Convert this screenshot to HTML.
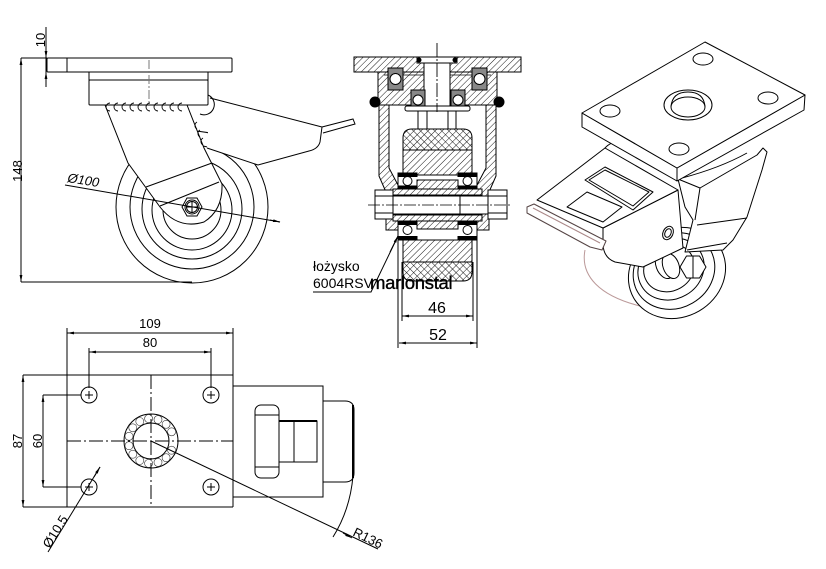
<!DOCTYPE html>
<html><head><meta charset="utf-8"><style>
html,body{margin:0;padding:0;background:#fff;}
svg{display:block;}
text{font-family:"Liberation Sans",Arial,sans-serif;fill:#000;}
</style></head><body>
<svg width="826" height="569" viewBox="0 0 826 569" xmlns="http://www.w3.org/2000/svg">
<defs>
<marker id="a" viewBox="0 0 10 10" refX="10" refY="5" markerWidth="7" markerHeight="7" orient="auto-start-reverse"><path d="M0,3 L10,5 L0,7 z" fill="#000"/></marker>
<pattern id="h" width="4.5" height="4.5" patternUnits="userSpaceOnUse" patternTransform="rotate(45)"><rect width="4.5" height="4.5" fill="#fff"/><line x1="0" y1="0" x2="0" y2="4.5" stroke="#000" stroke-width="0.9"/></pattern>
<pattern id="x" width="5" height="5" patternUnits="userSpaceOnUse" patternTransform="rotate(45)"><rect width="5" height="5" fill="#fff"/><line x1="0" y1="0" x2="0" y2="5" stroke="#000" stroke-width="0.9"/><line x1="0" y1="0" x2="5" y2="0" stroke="#000" stroke-width="0.9"/></pattern>
</defs>
<rect width="826" height="569" fill="#fff"/>

<!-- ================= SIDE VIEW ================= -->
<g fill="none" stroke="#000" stroke-width="1">
  <line x1="46" y1="27" x2="46" y2="87"/>
  <path d="M46,45 L46,58" marker-end="url(#a)"/>
  <path d="M46,86 L46,72" marker-end="url(#a)"/>
  <line x1="21" y1="58" x2="47" y2="58"/>
  <line x1="21" y1="282" x2="192" y2="282"/>
  <path d="M21,58 L21,282" marker-start="url(#a)" marker-end="url(#a)"/>
  <circle cx="192" cy="207" r="76"/>
  <circle cx="192" cy="207" r="62"/>
  <circle cx="192" cy="209" r="50"/>
  <circle cx="192" cy="210" r="40"/>
  <circle cx="192" cy="210" r="29"/>
  <path d="M210,98 L322,127 L320,142 Q318,149 309,151 L258,165 L207,148" fill="#fff"/>
  <path d="M322,127 L353,119 L355,124 L323,133"/>
  <path d="M105,105 L128,163 L160,207 Q178,230 204,222 Q223,210 222,184 L204,148 L187,105 Z" fill="#fff"/>
  <line x1="146" y1="187" x2="212" y2="163"/>
  <line x1="160" y1="206" x2="219" y2="182"/>
  <polygon points="202,207 197,216 187,216 182,207 187,198 197,198" fill="#fff"/>
  <circle cx="192" cy="207" r="7"/>
  <circle cx="192" cy="207" r="5.5"/>
  <line x1="186" y1="207" x2="198" y2="207"/><line x1="192" y1="201" x2="192" y2="213"/>
  <path d="M208,95 A9,9 0 0 1 200,114"/>
  <rect x="89" y="80" width="119" height="25" rx="1" fill="#fff"/>
  <rect x="89" y="72" width="119" height="8" fill="#fff"/>
  <rect x="47" y="58" width="185" height="14" rx="1" fill="#fff"/>
  <line x1="67" y1="58" x2="67" y2="72"/>
  <line x1="149" y1="60" x2="149" y2="104" stroke="#777" stroke-dasharray="9,2,2,2"/>
  <path d="M110,103 a4,4 0 0 0 0,8 M118,103 a4,4 0 0 0 0,8 M126,103 a4,4 0 0 0 0,8 M134,103 a4,4 0 0 0 0,8 M142,103 a4,4 0 0 0 0,8 M150,103 a4,4 0 0 0 0,8 M158,103 a4,4 0 0 0 0,8 M166,103 a4,4 0 0 0 0,8 M174,103 a4,4 0 0 0 0,8 M182,103 a4,4 0 0 0 0,8" stroke-width="0.9"/>
  <path d="M197,122 a4,4 0 0 0 0,7 M200,130 a4,4 0 0 0 0,7 M203,138 a4,4 0 0 0 0,7" stroke-width="0.9"/>
  <line x1="65" y1="185" x2="280" y2="222"/>
  <path d="M270,220 L280,222" marker-end="url(#a)"/>
</g>
<text x="0" y="0" font-size="13" transform="translate(45,40) rotate(-90)" text-anchor="middle">10</text>
<text x="0" y="0" font-size="13" transform="translate(22,171) rotate(-90)" text-anchor="middle">148</text>
<text x="0" y="0" font-size="13" font-style="italic" transform="translate(67,182) rotate(9)">Ø100</text>

<!-- ================= SECTION VIEW ================= -->
<g stroke="#000" stroke-width="1">
  <rect x="354" y="57" width="167" height="15" fill="url(#h)"/>
  <rect x="417" y="57" width="40" height="6" fill="#fff"/>
  <circle cx="419" cy="60" r="2.5" fill="#000" stroke="none"/>
  <circle cx="455" cy="60" r="2.5" fill="#000" stroke="none"/>
  <rect x="378" y="72" width="119" height="33" fill="url(#h)"/>
  <line x1="384" y1="75" x2="491" y2="75" stroke-width="0.8"/>
  <rect x="424" y="63" width="26" height="45" fill="#fff"/>
  <rect x="388" y="68" width="15" height="22" fill="#888"/>
  <circle cx="395.5" cy="79" r="5.5" fill="#fff"/>
  <rect x="472" y="68" width="15" height="22" fill="#888"/>
  <circle cx="479.5" cy="79" r="5.5" fill="#fff"/>
  <rect x="411" y="90" width="14" height="20" fill="#888"/>
  <circle cx="418" cy="100" r="5" fill="#fff"/>
  <rect x="451" y="90" width="14" height="20" fill="#888"/>
  <circle cx="458" cy="100" r="5" fill="#fff"/>
  <circle cx="375" cy="102" r="5" fill="#000"/>
  <circle cx="499" cy="102" r="5" fill="#000"/>
  <rect x="405" y="106" width="65" height="5" rx="2" fill="#fff"/>
  <path d="M418,111 V129 M427,111 V129 M448,111 V129 M456,111 V129" fill="none"/>
  <path d="M379,105 L389,105 L389,168 L398,185 L398,230 L386,230 L386,192 L379,176 Z" fill="url(#h)"/>
  <path d="M496,105 L486,105 L486,168 L477,185 L477,230 L489,230 L489,192 L496,176 Z" fill="url(#h)"/>
  <path d="M403,150 V138 Q403,129 412,129 H463 Q472,129 472,138 V150 Z" fill="url(#x)"/>
  <rect x="403" y="150" width="69" height="25" fill="url(#h)"/>
  <rect x="398" y="175" width="79" height="14" fill="#fff"/>
  <rect x="398" y="173" width="19" height="3.5" fill="#000"/>
  <rect x="458" y="173" width="19" height="3.5" fill="#000"/>
  <rect x="398" y="186" width="19" height="3.5" fill="#000"/>
  <rect x="458" y="186" width="19" height="3.5" fill="#000"/>
  <circle cx="407.5" cy="181" r="4.5" fill="#fff"/>
  <circle cx="467.5" cy="181" r="4.5" fill="#fff"/>
  <rect x="417" y="180" width="41" height="9" fill="url(#h)"/>
  <rect x="393" y="189" width="89" height="6" fill="url(#h)"/>
  <rect x="380" y="196" width="108" height="18" fill="#fff"/>
  <rect x="460" y="196" width="28" height="18" fill="#fff"/>
  <rect x="375" y="190" width="18" height="29" fill="#fff"/>
  <line x1="375" y1="196" x2="393" y2="196"/><line x1="375" y1="213" x2="393" y2="213"/>
  <rect x="488" y="190" width="19" height="29" fill="#fff"/>
  <line x1="488" y1="196" x2="507" y2="196"/><line x1="488" y1="213" x2="507" y2="213"/>
  <line x1="368" y1="205" x2="512" y2="205" stroke-width="0.8" stroke-dasharray="12,2,2,2"/>
  <rect x="393" y="215" width="89" height="6" fill="url(#h)"/>
  <rect x="398" y="221" width="79" height="19" fill="#fff"/>
  <rect x="417" y="221" width="41" height="8" fill="url(#h)"/>
  <rect x="398" y="221" width="19" height="3.5" fill="#000"/>
  <rect x="458" y="221" width="19" height="3.5" fill="#000"/>
  <rect x="398" y="236.5" width="19" height="3.5" fill="#000"/>
  <rect x="458" y="236.5" width="19" height="3.5" fill="#000"/>
  <circle cx="407.5" cy="230" r="4.5" fill="#fff"/>
  <circle cx="467.5" cy="230" r="4.5" fill="#fff"/>
  <rect x="403" y="240" width="69" height="22" fill="url(#h)"/>
  <path d="M403,262 H472 V272 Q472,281 463,281 H412 Q403,281 403,272 Z" fill="url(#x)"/>
  <line x1="437" y1="43" x2="437" y2="112" stroke-width="0.9" stroke-dasharray="14,2,2,2"/>
</g>
<g fill="none" stroke="#000" stroke-width="1">
  <path d="M398,240 V348 M402,262 V321 M473,262 V321 M477,240 V348"/>
  <path d="M402,316 L473,316" marker-start="url(#a)" marker-end="url(#a)"/>
  <path d="M399,343 L477,343" marker-start="url(#a)" marker-end="url(#a)"/>
  <path d="M313,292 L371,292 L398,236" />
  <path d="M390,252 L398,236" marker-end="url(#a)"/>
</g>
<text x="437" y="313" font-size="16" text-anchor="middle">46</text>
<text x="438" y="340" font-size="16" text-anchor="middle">52</text>
<text x="313" y="271" font-size="14" fill="#222">łożysko</text>
<text x="313" y="288" font-size="14" fill="#222">6004RSV</text>
<text x="370" y="289" font-size="18.5" letter-spacing="-0.3" stroke="#000" stroke-width="0.35">marlonstal</text>

<!-- ================= ISOMETRIC ================= -->
<g fill="#fff" stroke="#000" stroke-width="1" stroke-linejoin="round">
  <!-- wheel -->
  <path d="M585,250 C580,276 600,296 640,306" fill="none" stroke="#b99"/>
  <ellipse cx="677" cy="273" rx="50" ry="44" transform="rotate(-30 677 273)"/>
  <ellipse cx="674" cy="271" rx="42" ry="37" transform="rotate(-30 674 271)"/>
  <ellipse cx="671" cy="269" rx="34" ry="30" transform="rotate(-30 671 269)"/>
  <ellipse cx="669" cy="268" rx="26" ry="23" transform="rotate(-30 669 268)"/>
  <ellipse cx="665" cy="265" rx="9" ry="14" transform="rotate(-20 665 265)"/>
  <ellipse cx="671" cy="266" rx="8" ry="13" transform="rotate(-20 671 266)"/>
  <!-- right fork -->
  <path d="M678,179 L700,188 L757,155 L763,148 L767,152 L762,170 L747,217 L733,240 L723,250 L685,252 L693,220 L685,207 Z"/>
  <path d="M700,188 L695,220 M697,225 L747,218 M687,250 L727,243 M682,178 Q720,168 747,153" fill="none"/>
  <!-- nut -->
  <polygon points="706,267 699.5,278 686.5,278 680,267 686.5,256 699.5,256"/>
  <line x1="693" y1="256" x2="693" y2="278"/>
  <!-- body front face -->
  <path d="M603,228 L678,190 L683,248 L643,267 L615,262 Q604,258 603,245 Z"/>
  <ellipse cx="668" cy="233" rx="5" ry="7" transform="rotate(25 668 233)"/>
  <ellipse cx="668" cy="233" rx="3" ry="4.5" transform="rotate(25 668 233)"/>
  <!-- cover top -->
  <path d="M537,200 L605,148 L678,190 L603,228 Z"/>
  <path d="M585,180 L605,167 L653,192 L633,210 Z"/>
  <path d="M589,180 L605,170 L649,192 L633,206 Z" fill="none"/>
  <path d="M567,207 L587,192 L622,207 L603,222 Z"/>
  <!-- pedal lip -->
  <path d="M527,207 L534,204 L606,241 L602,250 L590,247 L527,213 Z" stroke="#544"/>
  <line x1="533" y1="208" x2="600" y2="243" stroke="#a88"/>
  <path d="M605,148 Q612,140 625,142" fill="none"/>
  <!-- plate -->
  <path d="M582,113 L582,127 L677,181 L677,168 Z"/>
  <path d="M677,168 L677,181 L804,110 L805,95 Z"/>
  <path d="M582,113 L705,42 L805,95 L677,168 Z"/>
  <ellipse cx="703" cy="59" rx="10" ry="6"/>
  <ellipse cx="768" cy="98" rx="10" ry="6"/>
  <ellipse cx="610" cy="111" rx="10" ry="6"/>
  <ellipse cx="679" cy="149" rx="10" ry="6"/>
  <ellipse cx="688" cy="105" rx="24" ry="15"/>
  <path d="M671,107 Q672,92 688,92 Q704,92 705,107" fill="none"/>
  <ellipse cx="688" cy="107" rx="17" ry="10"/>
</g>

<!-- ================= PLAN VIEW ================= -->
<g fill="none" stroke="#000" stroke-width="1">
  <line x1="23" y1="375" x2="233" y2="375"/>
  <line x1="23" y1="507" x2="233" y2="507"/>
  <line x1="67" y1="328" x2="67" y2="507"/>
  <line x1="233" y1="328" x2="233" y2="507"/>
  <line x1="89" y1="348" x2="89" y2="388"/>
  <line x1="211" y1="348" x2="211" y2="388"/>
  <line x1="43" y1="395" x2="81" y2="395"/>
  <line x1="43" y1="487" x2="81" y2="487"/>
  <path d="M67,333 L233,333" marker-start="url(#a)" marker-end="url(#a)"/>
  <path d="M89,352 L211,352" marker-start="url(#a)" marker-end="url(#a)"/>
  <path d="M23,375 L23,507" marker-start="url(#a)" marker-end="url(#a)"/>
  <path d="M43,395 L43,487" marker-start="url(#a)" marker-end="url(#a)"/>
  <line x1="67" y1="441" x2="233" y2="441" stroke-dasharray="14,3,2,3"/>
  <line x1="151" y1="375" x2="151" y2="507" stroke-dasharray="14,3,2,3"/>
  <circle cx="89" cy="395" r="8"/><path d="M85,395 H93 M89,391 V399"/>
  <circle cx="211" cy="395" r="8"/><path d="M207,395 H215 M211,391 V399"/>
  <circle cx="89" cy="487" r="8"/><path d="M85,487 H93 M89,483 V491"/>
  <circle cx="211" cy="487" r="8"/><path d="M207,487 H215 M211,483 V491"/>
  <circle cx="151" cy="441" r="27"/>
  <circle cx="151" cy="441" r="18"/>
  <g stroke-width="0.6" stroke="#333">
    <circle cx="171.6" cy="450.2" r="4"/><circle cx="166.1" cy="457.7" r="4"/><circle cx="158" cy="462.4" r="4"/>
    <circle cx="148.6" cy="463.4" r="4"/><circle cx="139.8" cy="460.5" r="4"/><circle cx="132.8" cy="454.2" r="4"/>
    <circle cx="129" cy="445.7" r="4"/><circle cx="129" cy="436.3" r="4"/><circle cx="132.8" cy="427.8" r="4"/>
    <circle cx="139.8" cy="421.5" r="4"/><circle cx="148.6" cy="418.6" r="4"/><circle cx="158" cy="419.6" r="4"/>
    <circle cx="166.1" cy="424.3" r="4"/><circle cx="171.6" cy="431.8" r="4"/>
  </g>
  <rect x="233" y="386" width="90" height="111"/>
  <path d="M323,401 H345 Q354,401 354,410 V473 Q354,482 345,482 H323"/>
  <line x1="353" y1="405" x2="353" y2="478" stroke-width="2"/>
  <rect x="255" y="405" width="24" height="73" rx="6"/>
  <line x1="255" y1="415" x2="279" y2="415"/>
  <line x1="255" y1="467" x2="279" y2="467"/>
  <rect x="279" y="421" width="38" height="41"/>
  <line x1="279" y1="421" x2="317" y2="421" stroke-width="2"/>
  <line x1="294" y1="421" x2="294" y2="462"/>
  <line x1="151" y1="441" x2="378" y2="549"/>
  <path d="M353,476 Q350,510 333,537"/>
  <path d="M343,533 L352,538" marker-end="url(#a)"/>
  <line x1="100" y1="467" x2="48" y2="552"/>
  <path d="M100,467 L94,477" marker-end="url(#a)" transform="rotate(180 97 472)"/>
</g>
<text x="150" y="328" font-size="13" text-anchor="middle">109</text>
<text x="150" y="347" font-size="13" text-anchor="middle">80</text>
<text x="0" y="0" font-size="13" transform="translate(22,441) rotate(-90)" text-anchor="middle">87</text>
<text x="0" y="0" font-size="13" transform="translate(42,441) rotate(-90)" text-anchor="middle">60</text>
<text x="0" y="0" font-size="13" transform="translate(59,534) rotate(-58)" text-anchor="middle">Ø10.5</text>
<text x="0" y="0" font-size="13" transform="translate(366,542) rotate(26)" text-anchor="middle">R136</text>
</svg>
</body></html>
